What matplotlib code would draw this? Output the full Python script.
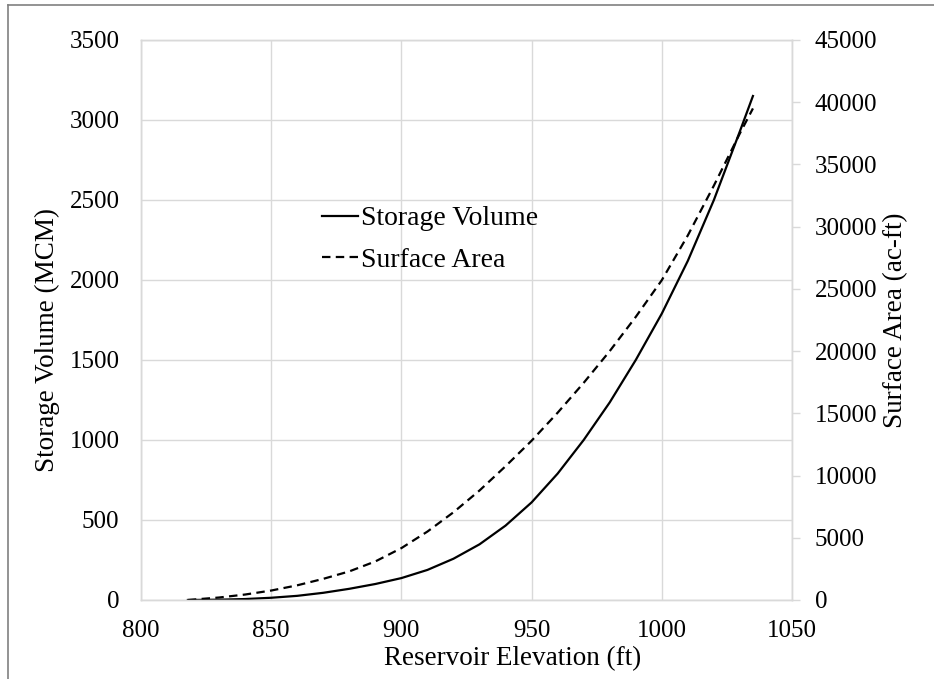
import matplotlib
matplotlib.use("Agg")
import matplotlib.pyplot as plt
from matplotlib.lines import Line2D

plt.rcParams['font.family'] = ['Liberation Serif', 'DejaVu Serif']

elevation = [818, 830, 840, 850, 860, 870, 880, 890, 900, 910, 920, 930, 940,
             950, 960, 970, 980, 990, 1000, 1010, 1020, 1030, 1035]
storage_mcm = [0, 2, 6, 14, 26, 45, 70, 100, 137, 188, 258, 348, 465,
               610, 790, 1000, 1235, 1500, 1790, 2120, 2500, 2930, 3150]
area_acft = [0, 200, 440, 760, 1180, 1700, 2300, 3100, 4170, 5500, 7050, 8800, 10750,
             12800, 15050, 17450, 20000, 22750, 25700, 29300, 33300, 37500, 39500]

x_ticks = [800, 850, 900, 950, 1000, 1050]
left_ticks = [0, 500, 1000, 1500, 2000, 2500, 3000, 3500]
right_ticks = [0, 5000, 10000, 15000, 20000, 25000, 30000, 35000, 40000, 45000]

W, H = 934, 679
fig = plt.figure(figsize=(W / 100, H / 100), dpi=100)
ax = fig.add_axes([141 / W, 1 - 600 / H, (792 - 141) / W, (600 - 40) / H])
ax2 = ax.twinx()

grid_c = '#d9d9d9'
fs_tick = 18
fs_lab = 19.5
fs_leg = 20

l1, = ax.plot(elevation, storage_mcm, color='black', lw=1.6, label='Storage Volume')
l2, = ax2.plot(elevation, area_acft, color='black', lw=1.6, ls=(0, (3.8, 2.4)),
               label='Surface Area')

ax.set_xlim(800, 1050)
ax.set_ylim(0, 3500)
ax2.set_ylim(0, 45000)
ax.set_xticks(x_ticks)
ax.set_yticks(left_ticks)
ax2.set_yticks(right_ticks)
ax.grid(True, color=grid_c, lw=1)
ax.set_axisbelow(True)

for a in (ax, ax2):
    for s in a.spines.values():
        s.set_color(grid_c)
        s.set_linewidth(1)

ax.tick_params(axis='y', length=0, labelsize=fs_tick, pad=15.5)
ax.tick_params(axis='x', length=0, labelsize=fs_tick, pad=14.5)
ax2.tick_params(axis='y', length=5.5, width=1, color=grid_c, labelsize=fs_tick, pad=11)

ax.set_xlabel('Reservoir Elevation (ft)', fontsize=fs_lab)
ax.xaxis.set_label_coords((513 - 141) / 651, -(659 - 600) / 560)
ax.xaxis.label.set_va('center')
ax.set_ylabel('Storage Volume (MCM)', fontsize=fs_lab)
ax.yaxis.set_label_coords(-(141 - 47) / 651, (600 - 340) / 560)
ax.yaxis.label.set_va('center')
ax2.set_ylabel('Surface Area (ac-ft)', fontsize=fs_lab)
ax2.yaxis.set_label_coords(1 + (896 - 792) / 651, (600 - 320) / 560)
ax2.yaxis.label.set_va('center')

ax.legend(handles=[l1, l2], loc='upper left',
          bbox_to_anchor=(322 / W, 1 - 206 / H), bbox_transform=fig.transFigure,
          frameon=False, fontsize=fs_leg, handlelength=1.3, handletextpad=0.1,
          labelspacing=0.58, borderpad=0, borderaxespad=0)

# figure border (left and top edges)
fig.add_artist(Line2D([8 / W, 8 / W], [0, 1 - 5 / H], transform=fig.transFigure,
                      color='#808080', lw=1.2))
fig.add_artist(Line2D([8 / W, 1], [1 - 5 / H, 1 - 5 / H], transform=fig.transFigure,
                      color='#808080', lw=1.2))

fig.savefig('out.png', dpi=100)
